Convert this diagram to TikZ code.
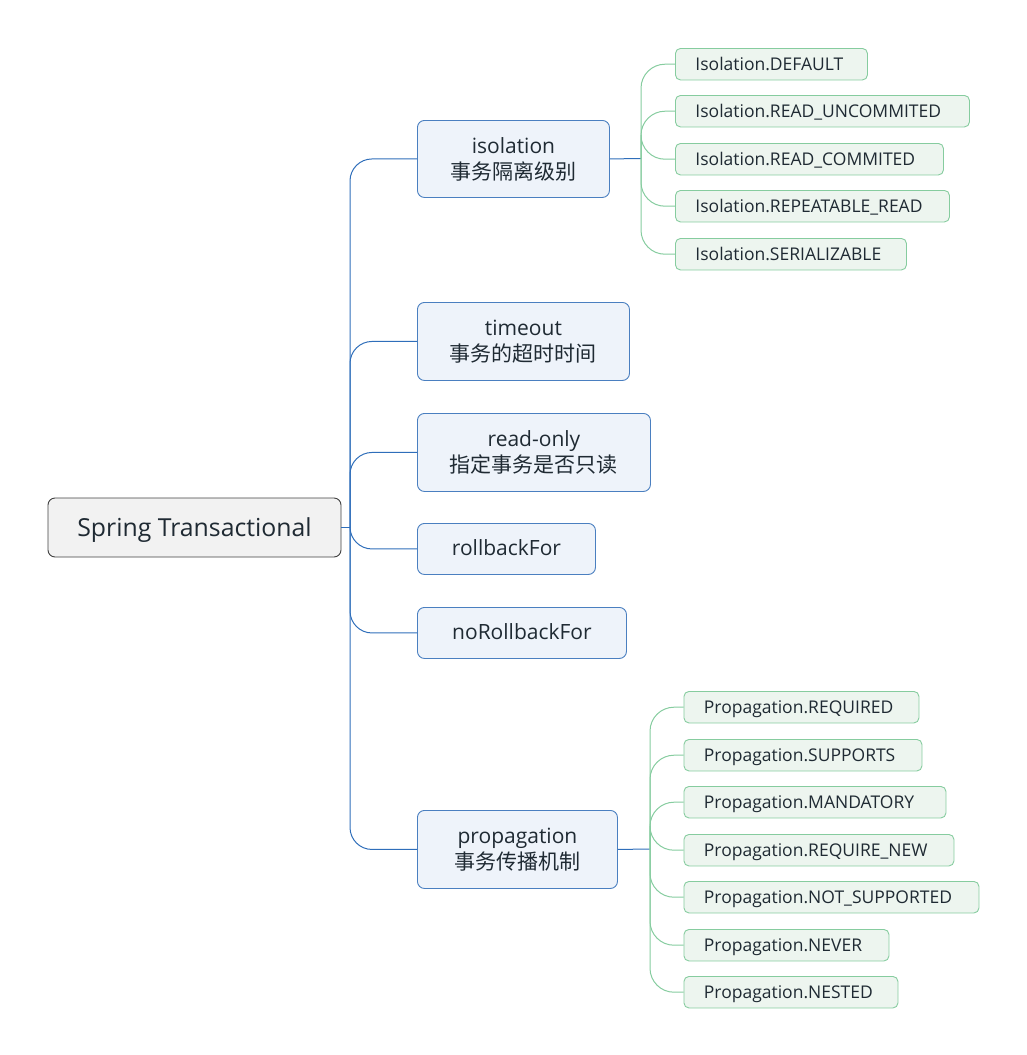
\documentclass[tikz,border=0pt]{standalone}
\usepackage{fontspec}
\setmainfont{Open Sans}
\newfontfamily\cjk{Noto Sans CJK SC}
\newcommand\lowertxt[2]{\raisebox{-#1}[0pt][0pt]{#2}}
\begin{document}
\begin{tikzpicture}[x=1pt,y=-1pt,
  rootbox/.style={draw=rootborder,fill=rootfill,rounded corners=7pt,line width=0.9pt,text=txt,font=\fontsize{24.8}{28}\selectfont,inner sep=0pt},
  bluebox/.style={draw=blueborder,fill=bluefill,rounded corners=7pt,line width=0.9pt,text=txt,align=center,font=\fontsize{21}{26}\selectfont,inner sep=0pt,anchor=north west},
  greenbox/.style={draw=greenborder,fill=greenfill,rounded corners=5pt,line width=0.9pt,text=txt,align=left,font=\fontsize{17.5}{20}\selectfont,inner xsep=20pt,inner ysep=0pt,anchor=north west},
  blueline/.style={draw=blueline,line width=1pt},
  greenline/.style={draw=greenline,line width=1pt}
]
\definecolor{rootborder}{HTML}{404040}
\definecolor{rootfill}{HTML}{F2F2F2}
\definecolor{blueborder}{HTML}{4A7FC0}
\definecolor{bluefill}{HTML}{EEF3FA}
\definecolor{blueline}{HTML}{2F6EBA}
\definecolor{greenborder}{HTML}{86CC9F}
\definecolor{greenfill}{HTML}{EDF5EF}
\definecolor{greenline}{HTML}{86CC9F}
\definecolor{txt}{HTML}{1F2A33}
\useasboundingbox (0,0) rectangle (1026,1055);

% root
\node[rootbox,minimum width=293pt,minimum height=59pt] (root) at (194.5,527.5) {\lowertxt{9pt}{Spring Transactional}};

% blue nodes
\node[bluebox,minimum width=192pt,minimum height=77pt] (iso) at (417,120) {isolation\\{\cjk 事务隔离级别}};
\node[bluebox,minimum width=212pt,minimum height=78pt] (tmo) at (417,302) {timeout\\{\cjk 事务的超时时间}};
\node[bluebox,minimum width=233pt,minimum height=78pt] (ro) at (417,413) {read-only\\{\cjk 指定事务是否只读}};
\node[bluebox,minimum width=178pt,minimum height=51pt] (rbf) at (417,523) {\lowertxt{7pt}{rollbackFor}};
\node[bluebox,minimum width=209pt,minimum height=51pt] (nrbf) at (417,607) {\lowertxt{7pt}{noRollbackFor}};
\node[bluebox,minimum width=200pt,minimum height=78pt] (prop) at (417,810) {propagation\\{\cjk 事务传播机制}};

% blue connectors
\coordinate (rj) at (350,527.5);
\draw[blueline] (root.east) -- (rj);
\foreach \n in {iso,tmo,ro,rbf,nrbf,prop}{
  \draw[blueline,rounded corners=22pt] (rj) |- (\n.west);
}

% isolation children
\foreach \name/\y/\w/\t in {
  i1/48/192/Isolation.DEFAULT,
  i2/95/294/Isolation.READ\_UNCOMMITED,
  i3/143/268/Isolation.READ\_COMMITED,
  i4/190/274/Isolation.REPEATABLE\_READ,
  i5/238/231/Isolation.SERIALIZABLE}{
  \node[greenbox,minimum height=31.5pt,text width=\w pt-40pt] (\name) at (675,\y) {\lowertxt{6.3pt}{\t}};
}
\coordinate (ij) at (641,158.5);
\draw[blueline] (iso.east) -- (ij);
\foreach \n in {i1,i2,i3,i4,i5}{
  \draw[greenline,rounded corners=24pt] (ij) |- (\n.west);
}

% propagation children
\foreach \name/\y/\w/\t in {
  p1/691/235/Propagation.REQUIRED,
  p2/739/238/Propagation.SUPPORTS,
  p3/786/262/Propagation.MANDATORY,
  p4/834/270/Propagation.REQUIRE\_NEW,
  p5/881/295/Propagation.NOT\_SUPPORTED,
  p6/929/205/Propagation.NEVER,
  p7/976/214/Propagation.NESTED}{
  \node[greenbox,minimum height=31.5pt,text width=\w pt-40pt] (\name) at (683.5,\y) {\lowertxt{6.3pt}{\t}};
}
\coordinate (pj) at (650,849);
\draw[blueline] (prop.east) -- (pj);
\foreach \n in {p1,p2,p3,p4,p5,p6,p7}{
  \draw[greenline,rounded corners=24pt] (pj) |- (\n.west);
}
\end{tikzpicture}
\end{document}
